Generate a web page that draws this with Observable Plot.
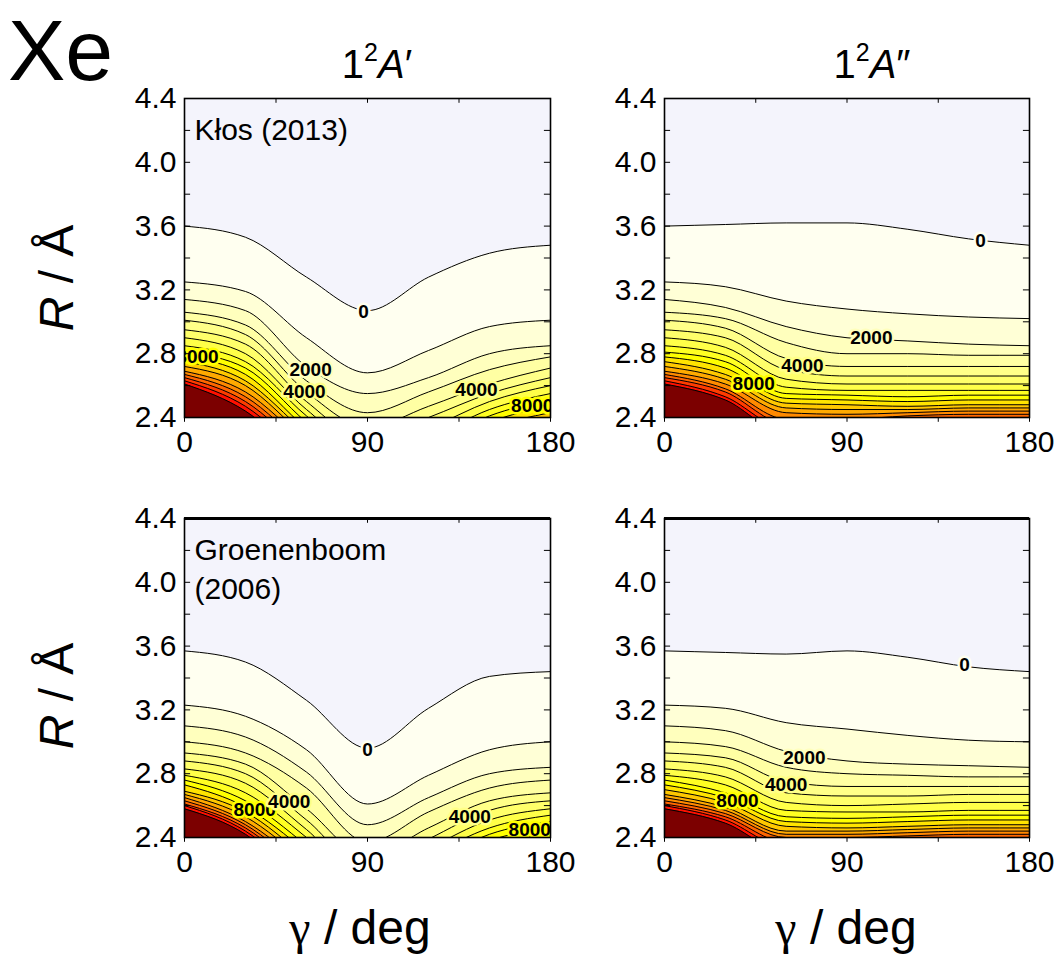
<!DOCTYPE html>
<html><head><meta charset="utf-8">
<script src="https://cdn.jsdelivr.net/npm/d3@7"></script>
<script src="https://cdn.jsdelivr.net/npm/@observablehq/plot@0.6"></script>
<style>
body{margin:0;background:#fff;font-family:"Liberation Sans",Arial,sans-serif;}
#wrap{position:relative;width:1062px;height:958px;overflow:hidden;background:#fff;}
#wrap svg{position:absolute;}
.t{position:absolute;white-space:nowrap;color:#000;line-height:1;font-family:"Liberation Sans",Arial,sans-serif;}
</style></head><body><div id="wrap"></div>
<script>
const gammas = [0, 30, 60, 90, 120, 150, 180];
// contour levels (cm^-1)
const levels = [0,1000,2000,3000,4000,5000,6000,7000,8000,9000,10000,11000,12000,13000,14000,15000,16000];

// Kłos (2013) 1²A′ : R of each contour level at the gammas above
const klosAp = [
 [3.60,3.53,3.28,3.07,3.28,3.43,3.48],
 [3.25,3.19,2.90,2.68,2.82,2.97,3.01],
 [3.14,3.07,2.72,2.55,2.65,2.80,2.85],
 [3.06,2.98,2.63,2.43,2.56,2.70,2.78],
 [3.01,2.92,2.56,2.34,2.47,2.61,2.71],
 [2.95,2.86,2.50,2.26,2.40,2.55,2.65],
 [2.90,2.80,2.45,2.19,2.33,2.50,2.60],
 [2.85,2.75,2.41,2.13,2.27,2.45,2.55],
 [2.81,2.71,2.37,2.08,2.22,2.41,2.51],
 [2.78,2.67,2.33,2.04,2.17,2.37,2.47],
 [2.75,2.63,2.30,2.00,2.13,2.33,2.43],
 [2.72,2.60,2.27,1.96,2.09,2.30,2.40],
 [2.69,2.56,2.24,1.93,2.05,2.27,2.37],
 [2.67,2.53,2.21,1.90,2.02,2.24,2.34],
 [2.65,2.50,2.18,1.87,1.99,2.21,2.32],
 [2.63,2.47,2.15,1.84,1.96,2.19,2.30],
 [2.61,2.44,2.12,1.81,1.93,2.17,2.28]
];
// Kłos (2013) 1²A″
const klosApp = [
 [3.60,3.61,3.62,3.62,3.58,3.52,3.48],
 [3.25,3.22,3.13,3.08,3.05,3.03,3.02],
 [3.14,3.09,2.97,2.90,2.88,2.86,2.85],
 [3.06,3.02,2.87,2.80,2.80,2.79,2.79],
 [3.01,2.96,2.77,2.72,2.72,2.72,2.72],
 [2.95,2.90,2.70,2.66,2.66,2.66,2.66],
 [2.90,2.84,2.64,2.61,2.61,2.61,2.61],
 [2.85,2.79,2.59,2.57,2.57,2.57,2.57],
 [2.81,2.75,2.55,2.54,2.53,2.54,2.54],
 [2.78,2.71,2.52,2.51,2.50,2.51,2.51],
 [2.75,2.67,2.49,2.48,2.47,2.48,2.48],
 [2.72,2.64,2.46,2.45,2.45,2.46,2.46],
 [2.69,2.61,2.43,2.42,2.43,2.44,2.44],
 [2.67,2.58,2.39,2.39,2.41,2.42,2.42],
 [2.65,2.56,2.36,2.37,2.39,2.40,2.40],
 [2.63,2.53,2.33,2.35,2.37,2.38,2.38],
 [2.61,2.51,2.30,2.33,2.35,2.36,2.36]
];
// Groenenboom (2006) 1²A′
const groenAp = [
 [3.57,3.50,3.26,2.96,3.21,3.41,3.44],
 [3.23,3.16,2.95,2.61,2.79,2.95,3.00],
 [3.10,3.03,2.81,2.48,2.65,2.80,2.84],
 [3.00,2.93,2.71,2.37,2.56,2.71,2.76],
 [2.93,2.86,2.58,2.28,2.46,2.63,2.68],
 [2.88,2.80,2.51,2.20,2.39,2.57,2.63],
 [2.83,2.74,2.45,2.13,2.33,2.51,2.58],
 [2.79,2.68,2.40,2.07,2.28,2.46,2.54],
 [2.76,2.63,2.35,2.02,2.23,2.42,2.50],
 [2.73,2.59,2.31,1.97,2.19,2.38,2.46],
 [2.69,2.56,2.27,1.93,2.15,2.34,2.43],
 [2.67,2.53,2.24,1.89,2.11,2.31,2.41],
 [2.65,2.50,2.21,1.86,2.08,2.28,2.38],
 [2.63,2.48,2.18,1.83,2.05,2.25,2.36],
 [2.61,2.46,2.15,1.80,2.02,2.22,2.34],
 [2.60,2.44,2.12,1.77,1.99,2.20,2.32],
 [2.58,2.42,2.09,1.74,1.96,2.18,2.30]
];
// Groenenboom (2006) 1²A″
const groenApp = [
 [3.57,3.56,3.55,3.57,3.53,3.47,3.44],
 [3.23,3.21,3.12,3.08,3.04,3.01,3.00],
 [3.10,3.07,2.94,2.88,2.86,2.85,2.84],
 [3.00,2.97,2.84,2.80,2.79,2.78,2.78],
 [2.93,2.90,2.75,2.72,2.72,2.72,2.72],
 [2.88,2.84,2.68,2.66,2.66,2.67,2.67],
 [2.83,2.78,2.62,2.60,2.61,2.62,2.62],
 [2.79,2.73,2.57,2.56,2.56,2.57,2.57],
 [2.76,2.68,2.53,2.52,2.53,2.54,2.54],
 [2.73,2.65,2.50,2.49,2.50,2.51,2.51],
 [2.70,2.62,2.47,2.46,2.47,2.48,2.48],
 [2.67,2.59,2.44,2.44,2.45,2.46,2.46],
 [2.65,2.57,2.42,2.42,2.43,2.44,2.44],
 [2.63,2.55,2.40,2.40,2.41,2.42,2.42],
 [2.61,2.53,2.37,2.38,2.39,2.40,2.40],
 [2.60,2.51,2.34,2.36,2.37,2.38,2.38],
 [2.58,2.49,2.31,2.34,2.35,2.36,2.36]
];

// contour labels: angle, R, text
const labelsKlosAp = [
 {gamma: 88, R: 3.06, text: "0"},
 {gamma: 6.4, R: 2.78, text: "8000"},
 {gamma: 62, R: 2.70, text: "2000"},
 {gamma: 59, R: 2.56, text: "4000"},
 {gamma: 143.6, R: 2.57, text: "4000"},
 {gamma: 171, R: 2.475, text: "8000"}
];
const labelsKlosApp = [
 {gamma: 155.8, R: 3.505, text: "0"},
 {gamma: 102, R: 2.90, text: "2000"},
 {gamma: 68, R: 2.725, text: "4000"},
 {gamma: 44, R: 2.61, text: "8000"}
];
const labelsGroenAp = [
 {gamma: 90, R: 2.95, text: "0"},
 {gamma: 34.5, R: 2.575, text: "8000"},
 {gamma: 51.5, R: 2.625, text: "4000"},
 {gamma: 140.3, R: 2.53, text: "4000"},
 {gamma: 169.8, R: 2.45, text: "8000"}
];
const labelsGroenApp = [
 {gamma: 148, R: 3.485, text: "0"},
 {gamma: 69, R: 2.90, text: "2000"},
 {gamma: 60, R: 2.73, text: "4000"},
 {gamma: 36, R: 2.63, text: "8000"}
];

const xMajor = [0, 90, 180];
const xMinor = [0, 45, 90, 135, 180];
const yMajor = [2.4, 2.8, 3.2, 3.6, 4.0, 4.4];
const yMinor = [2.4, 2.6, 2.8, 3.0, 3.2, 3.4, 3.6, 3.8, 4.0, 4.2, 4.4];

// fill colours: below 0, then each 1000 cm^-1 band, then above the top level
const bandColors = ["#f4f4fc","#fffff0","#ffffd6","#ffffbd","#ffffa3","#ffff88","#ffff6a","#ffff48","#ffff22",
  "#ffff00","#ffe400","#ffc800","#ffaa00","#ff8a00","#ff6600","#ff3c00","#ff1000","#7c0000"];

const font = '"Liberation Sans", Arial, sans-serif';
const wrap = document.getElementById("wrap");

function panel(grid, labels, source, left, top, innerW, heavyTop) {
  const mL = 90, mR = 32, mT = 12, mB = 50, innerH = 319;
  const rows = grid.flatMap((row, k) => row.map((R, i) => ({k, gamma: gammas[i], R})));
  const marks = [Plot.frame({fill: bandColors[0]})];
  grid.forEach((row, k) => {
    marks.push(Plot.areaY(rows.filter(d => d.k === k), {
      x: "gamma", y1: 2.4, y2: "R", fill: bandColors[k + 1], curve: "monotone-x", clip: true
    }));
  });
  marks.push(Plot.line(rows, {x: "gamma", y: "R", z: "k", stroke: "black", strokeWidth: 1, curve: "monotone-x", clip: true}));
  labels.forEach(l => {
    const idx = levels.indexOf(+l.text) + 1;
    marks.push(Plot.text([l], {
      x: "gamma", y: "R", text: "text", fontSize: 19, fontWeight: "bold", fill: "black",
      stroke: bandColors[idx], strokeWidth: 5, strokeLinejoin: "round", clip: true
    }));
  });
  if (source) {
    marks.push(Plot.text([source], {
      frameAnchor: "top-left", text: d => d, dx: 10, dy: 14, lineAnchor: "top",
      textAnchor: "start", fontSize: 30, lineHeight: 1.3, fill: "black"
    }));
  }
  // ticks
  marks.push(Plot.ruleY(yMinor, {y: d => d, x1: 0, x2: 3, stroke: "black", strokeWidth: 1}));
  marks.push(Plot.ruleY(yMinor, {y: d => d, x1: 180, x2: 177, stroke: "black", strokeWidth: 1}));
  marks.push(Plot.ruleX(xMinor, {x: d => d, y1: 2.4, y2: 2.37, stroke: "black", strokeWidth: 1}));
  marks.push(Plot.ruleX(xMinor, {x: d => d, y1: 4.4, y2: 4.37, stroke: "black", strokeWidth: 1}));
  marks.push(Plot.axisX({ticks: xMajor, tickSize: 0, tickPadding: 13, tickFormat: d => String(d), label: null, fontSize: 30}));
  marks.push(Plot.axisY({ticks: yMajor, tickSize: 0, tickPadding: 8, tickFormat: ".1f", label: null, fontSize: 30}));
  marks.push(Plot.frame({stroke: "black", strokeWidth: 1.6}));
  if (heavyTop) marks.push(Plot.ruleY([4.4], {stroke: "black", strokeWidth: 3}));
  const svg = Plot.plot({
    width: mL + innerW + mR, height: mT + innerH + mB,
    marginLeft: mL, marginRight: mR, marginTop: mT, marginBottom: mB,
    x: {domain: [0, 180]},
    y: {domain: [2.4, 4.4]},
    style: {fontFamily: font, fontSize: "30px", color: "black", background: "transparent", overflow: "visible", maxWidth: "none"},
    marks
  });
  svg.style.left = (left - mL) + "px";
  svg.style.top = (top - mT) + "px";
  wrap.appendChild(svg);
}

panel(klosAp, labelsKlosAp, "Kłos (2013)", 184, 98, 366, false);
panel(klosApp, labelsKlosApp, null, 664, 98, 365, false);
panel(groenAp, labelsGroenAp, "Groenenboom\n(2006)", 184, 518, 366, true);
panel(groenApp, labelsGroenApp, null, 664, 518, 365, true);

function addText(html, css) {
  const d = document.createElement("div");
  d.className = "t";
  d.innerHTML = html;
  Object.assign(d.style, css);
  wrap.appendChild(d);
}
// baseline of a line-height:1 box sits at ~0.847em from its top
addText("Xe", {left: "8px", top: (80 - 0.847 * 86) + "px", fontSize: "86px"});
const sup = '<span style="font-size:25px;position:relative;top:-17px;">2</span>';
addText("1" + sup + "<i>A</i>′", {left: "377px", top: (78 - 0.847 * 40) + "px", fontSize: "40px", transform: "translateX(-50%)"});
addText("1" + sup + "<i>A</i>″", {left: "872px", top: (78 - 0.847 * 40) + "px", fontSize: "40px", transform: "translateX(-50%)"});
["278px", "696px"].forEach(y => addText("<i>R</i> / Å", {left: "57px", top: y, fontSize: "48px", transform: "translate(-50%,-50%) rotate(-90deg)"}));
const gam = '<span style="font-family:\'Liberation Serif\',serif;">γ</span>';
["360px", "846px"].forEach(x => addText(gam + " / deg", {left: x, top: (945 - 0.847 * 48) + "px", fontSize: "48px", transform: "translateX(-50%)"}));
</script>
</body></html>
